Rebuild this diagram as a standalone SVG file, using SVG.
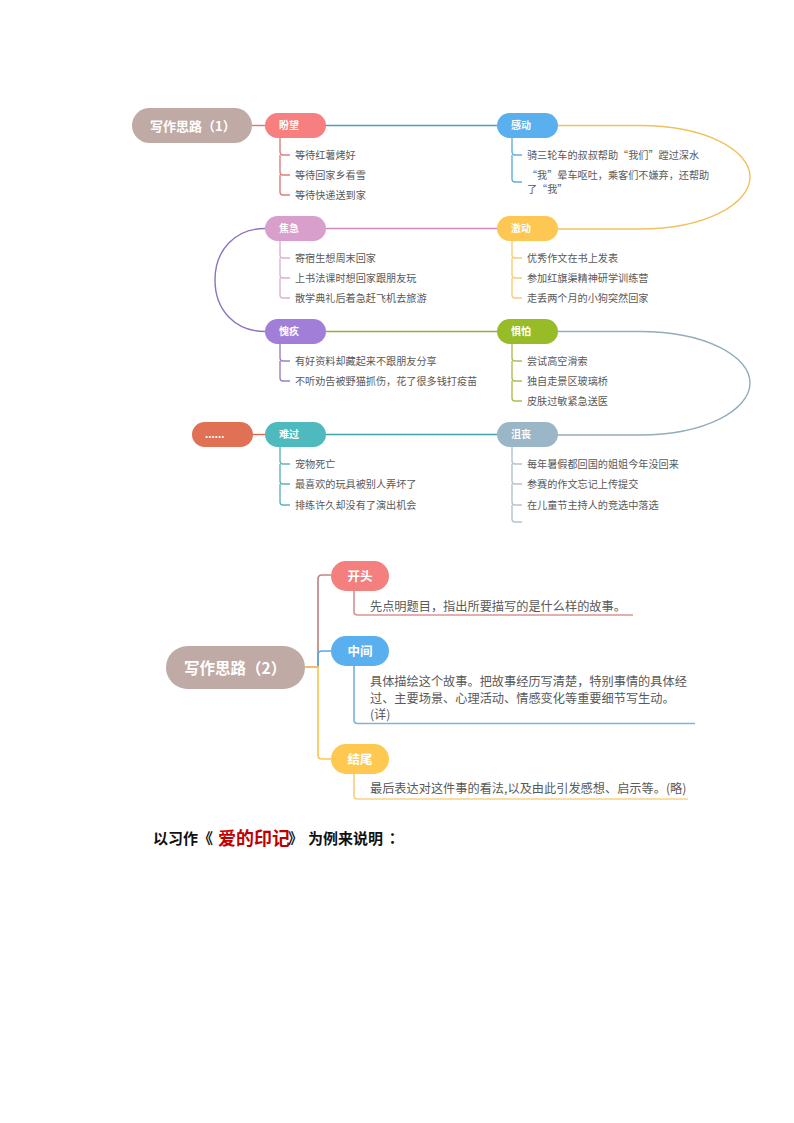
<svg xmlns="http://www.w3.org/2000/svg" width="794" height="1123" viewBox="0 0 794 1123">
<style>
text{font-family:"Noto Sans CJK SC","Noto Sans",sans-serif}
.l{font-size:10.150px;fill:#595959}
.m{font-size:12.200px;fill:#595959}
.p{font-size:10px;font-weight:700;fill:#fff}
.q{font-size:12.500px;font-weight:700;fill:#fff;text-anchor:middle}
.b{font-weight:700;fill:#111;font-size:15px}
path{fill:none;stroke-width:1.400}
.w{stroke-width:1.700}
</style>
<rect width="794" height="1123" fill="#fff"/>
<g id="connectors">
<path d="M252 125.500H265" stroke="#d9756f"/>
<path d="M326 125.500H497" stroke="#4f9dbd"/>
<path d="M326 228.500H497" stroke="#cf86bf"/>
<path d="M326 331.500H497" stroke="#9aab3c"/>
<path d="M326 434.500H497" stroke="#3fa3a8"/>
<path d="M252 434.500H265" stroke="#d96a4f"/>
<path d="M558 125.500H640C705 125.500 750 150 750 177C750 204 705 229 640 229H558" stroke="#f0c25f"/>
<path d="M558 331.500H640C705 331.500 750 356 750 383C750 410 705 435 640 435H558" stroke="#93adba"/>
<path d="M265 228.500C235 228.500 215 250 215 280C215 310 235 331.500 265 331.500" stroke="#8e72bd"/>
<path d="M280 138V151C280 153 281 155 283 155H290M280 155V172C280 174 281 175 283 175H290M280 175V192C280 194 281 195 283 195H290" stroke="#d9807b"/>
<path d="M280 241V255C280 257 281 258 283 258H290M280 258V275C280 277 281 278 283 278H290M280 278V295C280 297 281 298 283 298H290" stroke="#d9b3d2"/>
<path d="M280 344V358C280 360 281 361 283 361H290M280 361V378C280 380 281 381 283 381H290" stroke="#9a80cc"/>
<path d="M280 447V461C280 463 281 464 283 464H290M280 464V481C280 483 281 484 283 484H290M280 484V502C280 504 281 505 283 505H290" stroke="#62b5b5"/>
<path d="M512 138V151C512 153 513 155 515 155H522M512 155V179C512 181 513 182 515 182H522" stroke="#62aedc"/>
<path d="M512 241V255C512 257 513 258 515 258H522M512 258V275C512 277 513 278 515 278H522M512 278V295C512 297 513 298 515 298H522" stroke="#f5cd78"/>
<path d="M512 344V358C512 360 513 361 515 361H522M512 361V378C512 380 513 381 515 381H522M512 381V398C512 400 513 401 515 401H522" stroke="#a9bf55"/>
<path d="M512 447V461C512 463 513 464 515 464H522M512 464V481C512 483 513 484 515 484H522M512 484V502C512 504 513 505 515 505H522M512 505V519C512 521 513 522 515 522H522" stroke="#b3c4cf"/>
<path class="w" d="M305 667H318V579C318 577 319 575 322 575H331" stroke="#c48585"/>
<path class="w" d="M318 667V655C318 652 319 651 322 651H331" stroke="#5ca9de"/>
<path class="w" d="M305 667H318V755C318 758 319 759 322 759H331" stroke="#fcc752"/>
<path class="w" d="M354 591V612C354 614 355 615 358 615H633" stroke="#d99595"/>
<path class="w" d="M354 666V720C354 722 355 723.500 358 723.500H695" stroke="#7fb5d6"/>
<path class="w" d="M354 774V796C354 798 355 799 358 799H688" stroke="#f8d284"/>
</g>
<g id="root1"><rect x="132" y="108" width="120" height="35" rx="17.500" fill="#bfaaa5"/><text x="150" y="130.500" font-size="13" font-weight="700" fill="#fff">写作思路（1）</text></g>
<g id="n-panwang"><rect x="265" y="113" width="61" height="25" rx="12.500" fill="#f77f7f"/><text class="p" x="279" y="129">盼望</text></g>
<g id="l-panwang"><text class="l" x="295" y="158.500">等待红薯烤好</text><text class="l" x="295" y="178.500">等待回家乡看雪</text><text class="l" x="295" y="198.500">等待快递送到家</text></g>
<g id="n-jiaoji"><rect x="265" y="216" width="61" height="25" rx="12.500" fill="#d99fcc"/><text class="p" x="279" y="232">焦急</text></g>
<g id="l-jiaoji"><text class="l" x="295" y="261.500">寄宿生想周末回家</text><text class="l" x="295" y="281.500">上书法课时想回家跟朋友玩</text><text class="l" x="295" y="301.500">散学典礼后着急赶飞机去旅游</text></g>
<g id="n-kuijiu"><rect x="265" y="319" width="61" height="25" rx="12.500" fill="#a17fd9"/><text class="p" x="279" y="335">愧疚</text></g>
<g id="l-kuijiu"><text class="l" x="295" y="364.500">有好资料却藏起来不跟朋友分享</text><text class="l" x="295" y="384.500">不听劝告被野猫抓伤，花了很多钱打疫苗</text></g>
<g id="n-nanguo"><rect x="265" y="422" width="61" height="25" rx="12.500" fill="#4fbabd"/><text class="p" x="279" y="438">难过</text></g>
<g id="l-nanguo"><text class="l" x="295" y="467.500">宠物死亡</text><text class="l" x="295" y="487.500">最喜欢的玩具被别人弄坏了</text><text class="l" x="295" y="508.500">排练许久却没有了演出机会</text></g>
<g id="n-more"><rect x="192" y="422" width="61" height="25" rx="12.500" fill="#e07154"/><text class="p" x="205" y="438">......</text></g>
<g id="n-gandong"><rect x="497" y="113" width="61" height="25" rx="12.500" fill="#5ab0ef"/><text class="p" x="511" y="129">感动</text></g>
<g id="l-gandong"><text class="l" x="527" y="158.500">骑三轮车的叔叔帮助“我们”蹚过深水</text><text class="l" x="527" y="178.500">“我”晕车呕吐，乘客们不嫌弃，还帮助</text><text class="l" x="527" y="192.500">了“我”</text></g>
<g id="n-jidong"><rect x="497" y="216" width="61" height="25" rx="12.500" fill="#fcc752"/><text class="p" x="511" y="232">激动</text></g>
<g id="l-jidong"><text class="l" x="527" y="261.500">优秀作文在书上发表</text><text class="l" x="527" y="281.500">参加红旗渠精神研学训练营</text><text class="l" x="527" y="301.500">走丢两个月的小狗突然回家</text></g>
<g id="n-jupa"><rect x="497" y="319" width="61" height="25" rx="12.500" fill="#98bb28"/><text class="p" x="511" y="335">惧怕</text></g>
<g id="l-jupa"><text class="l" x="527" y="364.500">尝试高空滑索</text><text class="l" x="527" y="384.500">独自走景区玻璃桥</text><text class="l" x="527" y="404.500">皮肤过敏紧急送医</text></g>
<g id="n-jusang"><rect x="497" y="422" width="61" height="25" rx="12.500" fill="#9bb6c6"/><text class="p" x="511" y="438">沮丧</text></g>
<g id="l-jusang"><text class="l" x="527" y="467.500">每年暑假都回国的姐姐今年没回来</text><text class="l" x="527" y="487.500">参赛的作文忘记上传提交</text><text class="l" x="527" y="508.500">在儿童节主持人的竞选中落选</text></g>
<g id="root2"><rect x="166" y="646" width="139" height="43" rx="21.500" fill="#bfaaa5"/><text x="184" y="673.500" font-size="15.500" font-weight="700" fill="#fff">写作思路（2）</text></g>
<g id="n-kaitou"><rect x="331" y="561" width="58" height="30" rx="15" fill="#f47f7f"/><text class="q" x="360" y="580.500">开头</text></g>
<g id="l-kaitou"><text class="m" x="370" y="611">先点明题目，指出所要描写的是什么样的故事。</text></g>
<g id="n-zhongjian"><rect x="331" y="636" width="58" height="30" rx="15" fill="#5ab0ef"/><text class="q" x="360" y="655.500">中间</text></g>
<g id="l-zhongjian"><text class="m" x="370" y="686">具体描绘这个故事。把故事经历写清楚，特别事情的具体经</text><text class="m" x="370" y="703">过、主要场景、心理活动、情感变化等重要细节写生动。</text><text class="m" x="370" y="719">(详)</text></g>
<g id="n-jiewei"><rect x="331" y="744" width="58" height="30" rx="15" fill="#ffc850"/><text class="q" x="360" y="763.500">结尾</text></g>
<g id="l-jiewei"><text class="m" x="370" y="793">最后表达对这件事的看法,以及由此引发感想、启示等。(略)</text></g>
<g id="caption"><text class="b" x="153" y="844">以习作《</text><text x="218" y="845" font-size="18" font-weight="700" fill="#c00000">爱的印记</text><text class="b" x="288" y="844">》</text><text class="b" x="308" y="844">为例来说明</text><text class="b" x="385" y="844" style="font-family:'Noto Sans CJK TC',sans-serif">：</text></g>
</svg>
